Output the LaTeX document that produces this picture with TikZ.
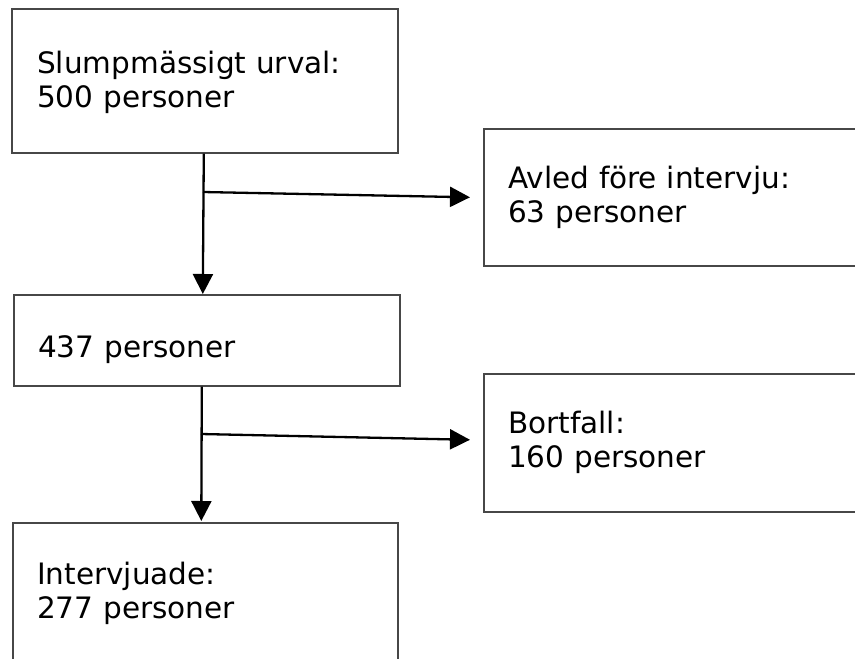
\documentclass[tikz,border=0pt]{standalone}
\usepackage{fontspec}
\setmainfont{DejaVu Sans}
\usetikzlibrary{arrows.meta}
\begin{document}
\begin{tikzpicture}[x=1pt,y=-1pt,
  boxstyle/.style={draw=black!72, line width=1.6pt, rectangle, inner sep=0pt, anchor=north west},
  txt/.style={anchor=base west, inner sep=0pt, align=left, text width=360pt,
    font=\fontsize{29.5}{34.5}\selectfont},
  arr/.style={draw=black, line width=2.3pt, -{Triangle[length=20pt,width=20pt]}}]
\useasboundingbox (0,0) rectangle (855,659);
\clip (0,0) rectangle (855,659);
\fill[white] (0,0) rectangle (855,659);
% boxes
\node[boxstyle, minimum width=386pt, minimum height=144pt] (b1) at (11,8) {};
\node[boxstyle, minimum width=400pt, minimum height=137pt] (b2) at (483,128) {};
\node[boxstyle, minimum width=386pt, minimum height=91pt] (b3) at (13,294) {};
\node[boxstyle, minimum width=400pt, minimum height=138pt] (b4) at (483,373) {};
\node[boxstyle, minimum width=385pt, minimum height=160pt] (b5) at (12,522) {};
% texts
\node[txt] (t1) at (37,73) {Slumpmässigt urval:\\500 personer};
\node[txt] (t2) at (508,188) {Avled före intervju:\\63 personer};
\node[txt] (t3) at (38,357) {437 personer};
\node[txt] (t4) at (508,433) {Bortfall:\\160 personer};
\node[txt] (t5) at (37,584) {Intervjuade:\\277 personer};
% connectors
\coordinate (j1) at (203,192);
\coordinate (j2) at (201,434);
\draw[arr] ([xshift=-1pt]b1.south) -- ([xshift=-4pt]b3.north);
\draw[arr] (j1) -- ([xshift=-13pt]b2.west);
\draw[arr] ([xshift=-5pt]b3.south) -- ([xshift=-4pt,yshift=1pt]b5.north);
\draw[arr] (j2) -- ([xshift=-13pt,yshift=3pt]b4.west);
\end{tikzpicture}
\end{document}
